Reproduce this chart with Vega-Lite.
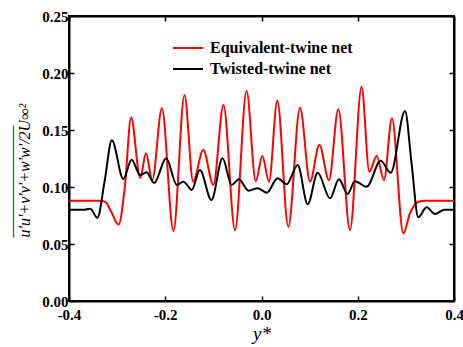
{
  "$schema": "https://vega.github.io/schema/vega-lite/v6.json",
  "width": 385,
  "height": 285,
  "autosize": "none",
  "padding": {"left": 69, "top": 16, "right": 9, "bottom": 46},
  "config": {
    "view": {"stroke": "black", "strokeWidth": 2},
    "font": "Liberation Serif",
    "axis": {
      "grid": false,
      "domainColor": "black",
      "domainWidth": 2,
      "tickColor": "black",
      "tickWidth": 1.5,
      "tickSize": -5,
      "labelFont": "Liberation Serif",
      "labelFontWeight": "bold",
      "labelFontSize": 15,
      "labelColor": "black",
      "labelFlush": false,
      "titleColor": "black",
      "titleFont": "Liberation Serif",
      "titleFontWeight": "normal",
      "titleFontStyle": "italic"
    },
    "legend": {
      "orient": "none",
      "title": null,
      "symbolType": "stroke",
      "symbolSize": 900,
      "symbolStrokeWidth": 2,
      "labelFont": "Liberation Serif",
      "labelFontWeight": "bold",
      "labelFontSize": 16,
      "labelColor": "black",
      "labelOffset": 6,
      "padding": 0
    }
  },
  "datasets": {
    "curves": [
      {"x": -0.4, "v": 0.088, "series": "Equivalent-twine net"},
      {"x": -0.34, "v": 0.088, "series": "Equivalent-twine net"},
      {"x": -0.325, "v": 0.087, "series": "Equivalent-twine net"},
      {"x": -0.312, "v": 0.078, "series": "Equivalent-twine net"},
      {"x": -0.297, "v": 0.067, "series": "Equivalent-twine net"},
      {"x": -0.284, "v": 0.1, "series": "Equivalent-twine net"},
      {"x": -0.271, "v": 0.161, "series": "Equivalent-twine net"},
      {"x": -0.252, "v": 0.108, "series": "Equivalent-twine net"},
      {"x": -0.24, "v": 0.1295, "series": "Equivalent-twine net"},
      {"x": -0.227, "v": 0.106, "series": "Equivalent-twine net"},
      {"x": -0.207, "v": 0.169, "series": "Equivalent-twine net"},
      {"x": -0.183, "v": 0.0614, "series": "Equivalent-twine net"},
      {"x": -0.16, "v": 0.1807, "series": "Equivalent-twine net"},
      {"x": -0.142, "v": 0.1047, "series": "Equivalent-twine net"},
      {"x": -0.121, "v": 0.1325, "series": "Equivalent-twine net"},
      {"x": -0.1, "v": 0.1018, "series": "Equivalent-twine net"},
      {"x": -0.079, "v": 0.172, "series": "Equivalent-twine net"},
      {"x": -0.055, "v": 0.0623, "series": "Equivalent-twine net"},
      {"x": -0.031, "v": 0.1842, "series": "Equivalent-twine net"},
      {"x": -0.012, "v": 0.105, "series": "Equivalent-twine net"},
      {"x": 0.0017, "v": 0.1272, "series": "Equivalent-twine net"},
      {"x": 0.0156, "v": 0.1047, "series": "Equivalent-twine net"},
      {"x": 0.0328, "v": 0.1757, "series": "Equivalent-twine net"},
      {"x": 0.0557, "v": 0.0652, "series": "Equivalent-twine net"},
      {"x": 0.08, "v": 0.1696, "series": "Equivalent-twine net"},
      {"x": 0.1008, "v": 0.1047, "series": "Equivalent-twine net"},
      {"x": 0.1202, "v": 0.1368, "series": "Equivalent-twine net"},
      {"x": 0.1403, "v": 0.106, "series": "Equivalent-twine net"},
      {"x": 0.1596, "v": 0.1682, "series": "Equivalent-twine net"},
      {"x": 0.1839, "v": 0.0623, "series": "Equivalent-twine net"},
      {"x": 0.208, "v": 0.188, "series": "Equivalent-twine net"},
      {"x": 0.224, "v": 0.1134, "series": "Equivalent-twine net"},
      {"x": 0.2394, "v": 0.1272, "series": "Equivalent-twine net"},
      {"x": 0.2545, "v": 0.106, "series": "Equivalent-twine net"},
      {"x": 0.271, "v": 0.1603, "series": "Equivalent-twine net"},
      {"x": 0.2947, "v": 0.0594, "series": "Equivalent-twine net"},
      {"x": 0.3086, "v": 0.077, "series": "Equivalent-twine net"},
      {"x": 0.326, "v": 0.087, "series": "Equivalent-twine net"},
      {"x": 0.34, "v": 0.088, "series": "Equivalent-twine net"},
      {"x": 0.4, "v": 0.088, "series": "Equivalent-twine net"},
      {"x": -0.4, "v": 0.08, "series": "Twisted-twine net"},
      {"x": -0.37, "v": 0.08, "series": "Twisted-twine net"},
      {"x": -0.356, "v": 0.081, "series": "Twisted-twine net"},
      {"x": -0.341, "v": 0.073, "series": "Twisted-twine net"},
      {"x": -0.326, "v": 0.105, "series": "Twisted-twine net"},
      {"x": -0.311, "v": 0.141, "series": "Twisted-twine net"},
      {"x": -0.287, "v": 0.107, "series": "Twisted-twine net"},
      {"x": -0.27, "v": 0.124, "series": "Twisted-twine net"},
      {"x": -0.252, "v": 0.1105, "series": "Twisted-twine net"},
      {"x": -0.239, "v": 0.113, "series": "Twisted-twine net"},
      {"x": -0.223, "v": 0.1035, "series": "Twisted-twine net"},
      {"x": -0.198, "v": 0.1252, "series": "Twisted-twine net"},
      {"x": -0.176, "v": 0.1018, "series": "Twisted-twine net"},
      {"x": -0.162, "v": 0.1047, "series": "Twisted-twine net"},
      {"x": -0.145, "v": 0.0974, "series": "Twisted-twine net"},
      {"x": -0.128, "v": 0.1149, "series": "Twisted-twine net"},
      {"x": -0.104, "v": 0.0886, "series": "Twisted-twine net"},
      {"x": -0.081, "v": 0.1252, "series": "Twisted-twine net"},
      {"x": -0.062, "v": 0.1018, "series": "Twisted-twine net"},
      {"x": -0.047, "v": 0.1067, "series": "Twisted-twine net"},
      {"x": -0.027, "v": 0.0968, "series": "Twisted-twine net"},
      {"x": -0.008, "v": 0.099, "series": "Twisted-twine net"},
      {"x": 0.0108, "v": 0.095, "series": "Twisted-twine net"},
      {"x": 0.0336, "v": 0.1076, "series": "Twisted-twine net"},
      {"x": 0.0523, "v": 0.1024, "series": "Twisted-twine net"},
      {"x": 0.0752, "v": 0.1193, "series": "Twisted-twine net"},
      {"x": 0.096, "v": 0.085, "series": "Twisted-twine net"},
      {"x": 0.1168, "v": 0.1125, "series": "Twisted-twine net"},
      {"x": 0.1423, "v": 0.0901, "series": "Twisted-twine net"},
      {"x": 0.161, "v": 0.1067, "series": "Twisted-twine net"},
      {"x": 0.179, "v": 0.0939, "series": "Twisted-twine net"},
      {"x": 0.194, "v": 0.105, "series": "Twisted-twine net"},
      {"x": 0.2186, "v": 0.1003, "series": "Twisted-twine net"},
      {"x": 0.2477, "v": 0.1231, "series": "Twisted-twine net"},
      {"x": 0.2685, "v": 0.1125, "series": "Twisted-twine net"},
      {"x": 0.2982, "v": 0.1667, "series": "Twisted-twine net"},
      {"x": 0.312, "v": 0.12, "series": "Twisted-twine net"},
      {"x": 0.3258, "v": 0.0734, "series": "Twisted-twine net"},
      {"x": 0.343, "v": 0.0822, "series": "Twisted-twine net"},
      {"x": 0.3605, "v": 0.0763, "series": "Twisted-twine net"},
      {"x": 0.38, "v": 0.08, "series": "Twisted-twine net"},
      {"x": 0.4, "v": 0.08, "series": "Twisted-twine net"}
    ]
  },
  "layer": [
    {
      "data": {"name": "curves"},
      "transform": [{"filter": "datum.series === 'Equivalent-twine net'"}],
      "mark": {"type": "line", "interpolate": "monotone", "strokeWidth": 2},
      "encoding": {
        "x": {
          "field": "x",
          "type": "quantitative",
          "scale": {"domain": [-0.4, 0.4], "nice": false},
          "axis": {
            "orient": "bottom",
            "values": [-0.4, -0.2, 0, 0.2, 0.4],
            "labelExpr": "replace(format(datum.value, '.1f'), '\u2212', '-')",
            "labelPadding": 11,
            "title": "y*",
            "titleFontSize": 19,
            "titlePadding": 2
          }
        },
        "y": {
          "field": "v",
          "type": "quantitative",
          "scale": {"domain": [0, 0.25], "nice": false},
          "axis": {
            "orient": "left",
            "values": [0, 0.05, 0.1, 0.15, 0.2, 0.25],
            "format": ".2f",
            "labelPadding": 6,
            "title": ["\u2013\u2013\u2013\u2013\u2013\u2013\u2013\u2013\u2013\u2013\u2013\u2013\u2013\u2013", "u'u'+v'v'+w'w'/2U\u221e\u00b2"],
            "titleFontSize": 16,
            "titleLineHeight": 13,
            "titleAlign": "left",
            "titleAngle": -90,
            "titleBaseline": "bottom",
            "titleX": -50,
            "titleY": 221
          }
        },
        "stroke": {
          "field": "series",
          "type": "nominal",
          "scale": {"domain": ["Equivalent-twine net"], "range": ["#ff0000"]},
          "legend": {"legendX": 103, "legendY": 16}
        }
      }
    },
    {
      "data": {"name": "curves"},
      "transform": [{"filter": "datum.series === 'Twisted-twine net'"}],
      "mark": {"type": "line", "interpolate": "monotone", "strokeWidth": 2},
      "encoding": {
        "x": {
          "field": "x",
          "type": "quantitative",
          "scale": {"domain": [-0.4, 0.4], "nice": false},
          "axis": {"orient": "top", "values": [-0.4, -0.2, 0, 0.2, 0.4], "labels": false, "title": null}
        },
        "y": {
          "field": "v",
          "type": "quantitative",
          "scale": {"domain": [0, 0.25], "nice": false},
          "axis": {"orient": "right", "values": [0, 0.05, 0.1, 0.15, 0.2, 0.25], "labels": false, "title": null}
        },
        "stroke": {
          "field": "series",
          "type": "nominal",
          "scale": {"domain": ["Twisted-twine net"], "range": ["#000000"]},
          "legend": {"legendX": 103, "legendY": 37}
        }
      }
    }
  ],
  "resolve": {
    "axis": {"x": "independent", "y": "independent"},
    "scale": {"stroke": "independent"},
    "legend": {"stroke": "independent"}
  }
}
